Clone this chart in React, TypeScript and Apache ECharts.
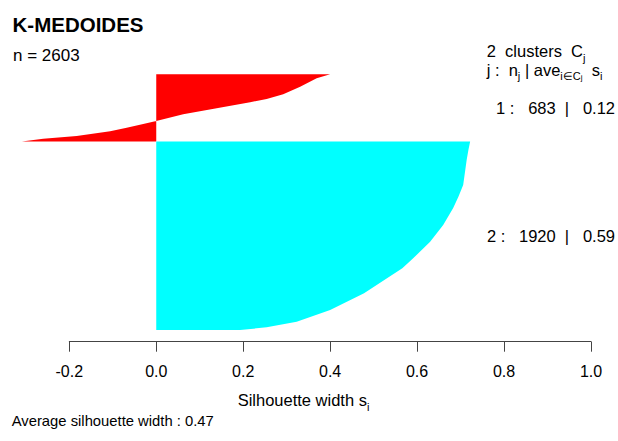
import React, { useEffect, useRef } from 'react';
import * as echarts from 'echarts';

const FONT = '"Liberation Sans", Arial, sans-serif';

const totalN = 2603;
const clusterSizes = [683, 1920];
const clusterAverages = ['0.12', '0.59'];
const clusterColors = ['#ff0000', '#00ffff'];
const averageWidth = '0.47';
const xTicks = [-0.2, 0.0, 0.2, 0.4, 0.6, 0.8, 1.0];

// Sorted silhouette widths: position in plot order (0 = top) and width s_i
const cluster1Ranks = [0, 41, 126, 204, 251, 285, 346, 407, 475, 505, 544, 580, 628, 656, 683];
const cluster1Widths = [0.4, 0.369, 0.331, 0.292, 0.254, 0.216, 0.139, 0.062, 0.0, -0.03, -0.068, -0.106, -0.183, -0.26, -0.309];
const cluster2Ranks = [683, 770, 872, 1127, 1246, 1361, 1534, 1704, 1873, 1975, 2229, 2399, 2519, 2576, 2603];
const cluster2Widths = [0.722, 0.718, 0.714, 0.706, 0.695, 0.683, 0.66, 0.63, 0.591, 0.566, 0.478, 0.4, 0.323, 0.254, 0.193];

const profiles = [
  { ranks: cluster1Ranks, widths: cluster1Widths },
  { ranks: cluster2Ranks, widths: cluster2Widths },
];

const sp = (s: string) => s.replace(/ /g, '\u00a0');

function makeRich(size: number) {
  return {
    m: { fontSize: size, lineHeight: 24, fontFamily: FONT, color: '#000' },
    s: { fontSize: 11, lineHeight: 12, verticalAlign: 'bottom', fontFamily: FONT, color: '#000' },
    ss: { fontSize: 8, lineHeight: 8, verticalAlign: 'bottom', fontFamily: FONT, color: '#000' },
  };
}

function richText(x: number, top: number, text: string, size: number, align = 'left') {
  return {
    type: 'text',
    x,
    y: top,
    style: {
      text,
      rich: makeRich(size),
      align,
      verticalAlign: 'top',
      font: `${size}px ${FONT}`,
      fill: '#000',
    },
  };
}

function plainText(x: number, y: number, text: string, size: number, align = 'left', weight = 'normal') {
  return {
    type: 'text',
    x,
    y,
    style: {
      text: sp(text),
      font: `${weight} ${size}px ${FONT}`,
      fill: '#000',
      align,
      verticalAlign: 'middle',
    },
  };
}

export default function App() {
  const ref = useRef<HTMLDivElement>(null);

  useEffect(() => {
    if (!ref.current) return;
    const chart = echarts.init(ref.current, undefined, { renderer: 'svg' });

    const series = profiles.map((p, idx) => ({
      type: 'custom',
      coordinateSystem: 'cartesian2d',
      data: [[0, p.ranks[0]]],
      encode: { x: 0, y: 1 },
      silent: true,
      renderItem: (_params: any, api: any) => {
        const start = p.ranks[0];
        const end = p.ranks[p.ranks.length - 1];
        const points: number[][] = [api.coord([0, start])];
        p.ranks.forEach((r, i) => points.push(api.coord([p.widths[i], r])));
        points.push(api.coord([0, end]));
        return {
          type: 'polygon',
          shape: { points },
          style: { fill: clusterColors[idx], stroke: null },
        };
      },
    }));

    chart.setOption({
      animation: false,
      backgroundColor: '#ffffff',
      grid: { left: 69.3, right: 27, top: 74.3, bottom: 111, containLabel: false },
      xAxis: {
        type: 'value',
        position: 'bottom',
        min: xTicks[0],
        max: xTicks[xTicks.length - 1],
        interval: 0.2,
        offset: 11.7,
        axisLine: { show: true, onZero: false, lineStyle: { color: '#444', width: 1 } },
        axisTick: { show: true, length: 10, lineStyle: { color: '#444', width: 1 } },
        splitLine: { show: false },
        axisLabel: {
          fontSize: 16,
          fontFamily: FONT,
          color: '#000',
          margin: 22,
          formatter: (v: number) => (Math.abs(v) < 1e-9 ? '0.0' : v.toFixed(1)),
        },
      },
      yAxis: {
        type: 'value',
        min: 0,
        max: totalN,
        inverse: true,
        show: false,
      },
      series,
      graphic: [
        plainText(12.5, 24, 'K-MEDOIDES', 20.5, 'left', 'bold'),
        plainText(13, 55.2, `n = ${totalN}`, 17),
        richText(486.7, 39.2, `{m|${sp(`${clusterSizes.length}  clusters  C`)}}{s|j}`, 16.5),
        richText(486.7, 57.5, `{m|${sp('j :  n')}}{s|j}{m|${sp(' | ave')}}{s|i∈C}{ss|j}{m|${sp('  s')}}{s|i}`, 16.5),
        plainText(615, 107.8, `1 :   ${clusterSizes[0]}  |   ${clusterAverages[0]}`, 16.5, 'right'),
        plainText(615, 236.2, `2 :   ${clusterSizes[1]}  |   ${clusterAverages[1]}`, 16.5, 'right'),
        richText(303.5, 388.1, `{m|${sp('Silhouette width s')}}{s|i}`, 16.5, 'center'),
        plainText(11.7, 421.3, `Average silhouette width : ${averageWidth}`, 14.8),
      ],
    });

    return () => chart.dispose();
  }, []);

  return (
    <div
      ref={ref}
      style={{ position: 'fixed', left: 0, top: 0, width: 618, height: 441, background: '#fff' }}
    />
  );
}
